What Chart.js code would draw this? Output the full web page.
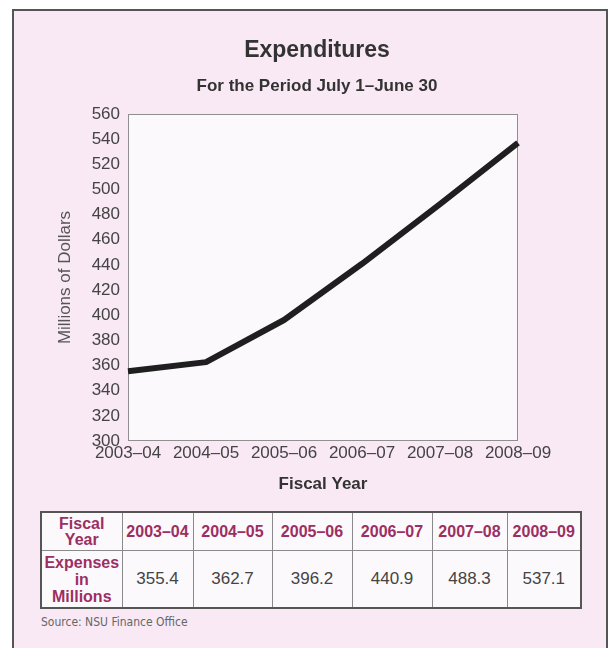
<!DOCTYPE html>
<html>
<head>
<meta charset="utf-8">
<script src="https://cdn.jsdelivr.net/npm/chart.js@4/dist/chart.umd.min.js"></script>
<style>
  html, body { margin: 0; padding: 0; background: #fff; }
  body { width: 611px; height: 648px; position: relative; overflow: hidden; font-family: 'Liberation Sans', Arial, sans-serif; }
  #frame { position: absolute; left: 12px; top: 9px; width: 592px; height: 660px; border: 2px solid #555; background: #f8e9f5; }
  #chart { position: absolute; left: 0; top: 0; }
  #tbl { position: absolute; left: 40px; top: 511px; border-collapse: collapse; border: 2px solid #555; background: #fcf9fc; table-layout: fixed; }
  #tbl td { border: 1px solid #8a8a8a; text-align: center; padding: 0; }
  #tbl tr.head td { height: 37px; color: #9c2f62; font-weight: bold; font-size: 16px; line-height: 16px; }
  #tbl tr.vals td { height: 56px; color: #444; font-size: 17px; }
  #tbl tr.vals td.lbl { color: #9c2f62; font-weight: bold; font-size: 16px; line-height: 17px; }
  #src { position: absolute; left: 41px; top: 615px; font-family: 'Liberation Sans Narrow', 'DejaVu Sans Condensed', sans-serif; font-size: 12px; color: #666; }
</style>
</head>
<body>
<div id="frame"></div>
<canvas id="chart" width="611" height="500"></canvas>
<table id="tbl">
  <colgroup>
    <col style="width:81px"><col style="width:71px"><col style="width:79px"><col style="width:80px">
    <col style="width:80px"><col style="width:75px"><col style="width:74px">
  </colgroup>
  <tr class="head" id="headRow"><td>Fiscal<br>Year</td></tr>
  <tr class="vals" id="valRow"><td class="lbl">Expenses<br>in<br>Millions</td></tr>
</table>
<div id="src">Source: NSU Finance Office</div>
<script>
// data
const years = ['2003–04', '2004–05', '2005–06', '2006–07', '2007–08', '2008–09'];
const expenses = [355.4, 362.7, 396.2, 440.9, 488.3, 537.1];
const yMin = 300, yMax = 560, yStep = 20;

// table under the chart
const headRow = document.getElementById('headRow');
const valRow = document.getElementById('valRow');
years.forEach((y, i) => {
  const h = document.createElement('td');
  h.textContent = y;
  headRow.appendChild(h);
  const v = document.createElement('td');
  v.textContent = expenses[i].toFixed(1);
  valRow.appendChild(v);
});

// white plot box with grey frame
const plotBox = {
  id: 'plotBox',
  beforeDatasetsDraw(chart) {
    const { ctx, chartArea: a } = chart;
    ctx.save();
    ctx.fillStyle = '#fcf9fc';
    ctx.fillRect(a.left, a.top, a.right - a.left, a.bottom - a.top);
    ctx.strokeStyle = '#8f8f8f';
    ctx.lineWidth = 1;
    ctx.strokeRect(a.left + 0.5, a.top + 0.5, a.right - a.left - 1, a.bottom - a.top - 1);
    ctx.restore();
  }
};

const font = 'Liberation Sans, Arial, sans-serif';

new Chart(document.getElementById('chart').getContext('2d'), {
  type: 'line',
  data: {
    labels: years,
    datasets: [{
      data: expenses,
      borderColor: '#1f1f1f',
      borderWidth: 6,
      pointRadius: 0,
      tension: 0,
      fill: false,
      borderJoinStyle: 'round'
    }]
  },
  options: {
    responsive: false,
    animation: false,
    layout: { padding: { left: 23, right: 0, top: 0, bottom: 0 } },
    plugins: {
      legend: { display: false },
      tooltip: { enabled: false },
      title: {
        display: true,
        text: 'Expenditures',
        color: '#333',
        font: { family: font, size: 23, weight: 'bold' },
        padding: { top: 37, bottom: 0 }
      },
      subtitle: {
        display: true,
        text: 'For the Period July 1–June 30',
        color: '#333',
        font: { family: font, size: 17, weight: 'bold' },
        padding: { top: 12, bottom: 17 }
      }
    },
    scales: {
      x: {
        offset: false,
        grid: { display: false, drawTicks: false },
        border: { display: false },
        ticks: { color: '#444', font: { family: font, size: 17 }, padding: 2, maxRotation: 0, autoSkip: false },
        title: {
          display: true,
          text: 'Fiscal Year',
          color: '#333',
          font: { family: font, size: 17, weight: 'bold' },
          padding: { top: 0, bottom: 5 }
        },
        afterFit(s) { s.height = 59; }
      },
      y: {
        min: yMin,
        max: yMax,
        grid: { display: false, drawTicks: false },
        border: { display: false },
        ticks: { stepSize: yStep, color: '#444', font: { family: font, size: 17 }, padding: 8 },
        title: {
          display: true,
          text: 'Millions of Dollars',
          color: '#555',
          font: { family: font, size: 17 },
          padding: { top: 32, bottom: 0 }
        },
        afterFit(s) { s.width = 105; }
      },
      yR: {
        position: 'right',
        grid: { display: false },
        border: { display: false },
        ticks: { display: false },
        afterFit(s) { s.width = 93; }
      }
    }
  },
  plugins: [plotBox]
});
</script>
</body>
</html>
